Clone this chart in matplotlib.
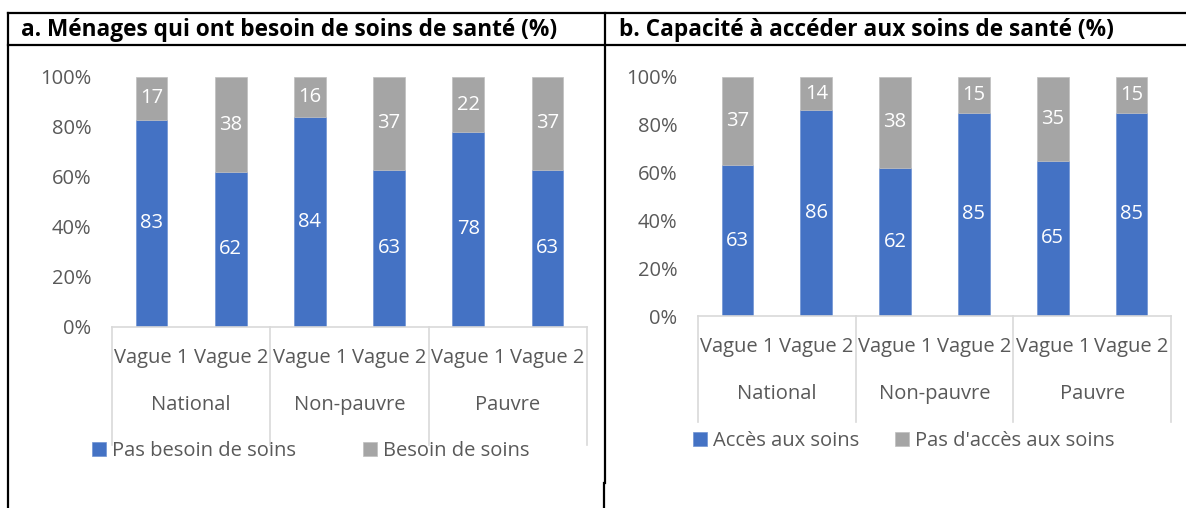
import matplotlib
matplotlib.use('Agg')
import matplotlib.pyplot as plt
from matplotlib.lines import Line2D
import numpy as np

plt.rcParams['font.family'] = ['Open Sans', 'DejaVu Sans']

groups = ['National', 'Non-pauvre', 'Pauvre']
waves = ['Vague 1', 'Vague 2']

# panel a
a_title = 'a. Ménages qui ont besoin de soins de santé (%)'
a_labels = ['Pas besoin de soins', 'Besoin de soins']
a_low = [83, 62, 84, 63, 78, 63]
a_high = [17, 38, 16, 37, 22, 37]

# panel b
b_title = 'b. Capacité à accéder aux soins de santé (%)'
b_labels = ['Accès aux soins', "Pas d'accès aux soins"]
b_low = [63, 86, 62, 85, 65, 85]
b_high = [37, 14, 38, 15, 35, 15]

blue = '#4472C4'
grey = '#A5A5A5'
txt = '#595959'
W, H = 1186, 508
fs = 14.5

fig = plt.figure(figsize=(W / 100, H / 100), dpi=100)


def fx(px):
    return px / W


def fy(py):
    return 1 - py / H


def panel(rect, low, high, labels, leg_x, leg_y, line_len, colsp):
    ax = fig.add_axes(rect)
    x = np.arange(len(low))
    b1 = ax.bar(x, low, width=0.4, color=blue, edgecolor='#6F93D3', linewidth=0.5)
    b2 = ax.bar(x, high, bottom=low, width=0.4, color=grey, edgecolor='#BFBFBF', linewidth=0.5)
    for i in range(len(low)):
        ax.text(x[i], low[i] / 2, str(low[i]), ha='center', va='center', color='white', fontsize=fs)
        ax.text(x[i], low[i] + high[i] / 2, str(high[i]), ha='center', va='center', color='white', fontsize=fs)
    ax.set_xlim(-0.5, len(low) - 0.5)
    ax.set_ylim(0, 100)
    ax.set_yticks(range(0, 101, 20))
    ax.set_yticklabels([f'{v}%' for v in range(0, 101, 20)], color=txt, fontsize=fs)
    ax.tick_params(axis='y', length=0, pad=15)
    ax.set_xticks([])
    for s in ['top', 'right', 'left']:
        ax.spines[s].set_visible(False)
    ax.spines['bottom'].set_color('#D9D9D9')
    ax.spines['bottom'].set_linewidth(1.2)
    # multi-level category axis
    h_ax = rect[3] * H
    for k in range(len(groups) + 1):
        xx = -0.5 + 2 * k
        ax.add_line(Line2D([xx, xx], [0, -line_len / h_ax * 100], color='#D9D9D9', lw=1.2, clip_on=False))
    for i in range(len(low)):
        ax.text(x[i], -31 / h_ax * 100, waves[i % 2], ha='center', va='center', color=txt, fontsize=fs)
    for g, name in enumerate(groups):
        ax.text(2 * g + 0.5, -78 / h_ax * 100, name, ha='center', va='center', color=txt, fontsize=fs)
    leg = fig.legend([b1, b2], labels, loc='center left', bbox_to_anchor=(fx(leg_x), fy(leg_y)),
                     ncol=2, frameon=False, handlelength=0.7, handleheight=0.7, handletextpad=0.3,
                     columnspacing=colsp, fontsize=fs, borderpad=0, borderaxespad=0)
    for t in leg.get_texts():
        t.set_color(txt)
    return ax


panel([fx(112), fy(327), fx(587) - fx(112), fy(77) - fy(327)], a_low, a_high, a_labels, 92, 451, 118, 3.3)
panel([fx(698), fy(316), fx(1171) - fx(698), fy(77) - fy(316)], b_low, b_high, b_labels, 693, 441, 106, 1.75)

# table borders
lw = 1.6
fig.add_artist(Line2D([fx(8), 1], [fy(13), fy(13)], color='black', lw=lw))
fig.add_artist(Line2D([fx(8), 1], [fy(45), fy(45)], color='black', lw=lw))
fig.add_artist(Line2D([fx(8), fx(8)], [fy(13), 0], color='black', lw=lw))
fig.add_artist(Line2D([fx(605), fx(605)], [fy(13), fy(483)], color='black', lw=lw))
fig.add_artist(Line2D([fx(604), fx(604)], [fy(483), 0], color='black', lw=lw))

fig.text(fx(21), fy(30), a_title, fontsize=16.3, fontweight='bold', va='center', ha='left')
fig.text(fx(619), fy(30), b_title, fontsize=16.3, fontweight='bold', va='center', ha='left')

fig.savefig('out.png', dpi=100)
